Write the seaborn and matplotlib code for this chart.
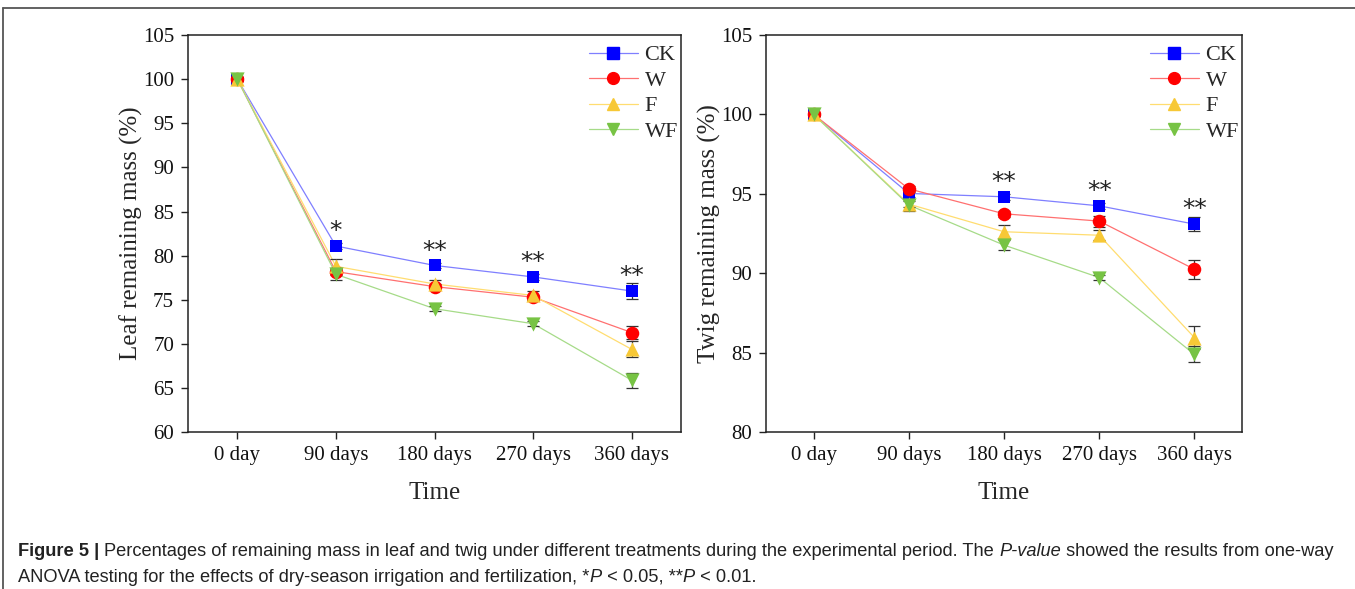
import numpy as np
import pandas as pd
import matplotlib
matplotlib.use("Agg")
import matplotlib.pyplot as plt
from matplotlib.lines import Line2D
import seaborn as sns

# ---------------- data ----------------
times = ["0 day", "90 days", "180 days", "270 days", "360 days"]
treatments = ["CK", "W", "F", "WF"]

leaf_CK = [100.0, 81.1, 78.9, 77.6, 76.0]
leaf_W = [100.0, 78.2, 76.5, 75.3, 71.3]
leaf_F = [100.0, 78.8, 76.8, 75.5, 69.4]
leaf_WF = [100.0, 77.9, 74.0, 72.3, 65.9]
leaf_CK_se = [0.2, 0.3, 0.3, 0.3, 0.9]
leaf_W_se = [0.2, 0.4, 0.3, 0.3, 0.75]
leaf_F_se = [0.2, 0.8, 0.4, 0.5, 0.9]
leaf_WF_se = [0.2, 0.6, 0.3, 0.3, 0.85]
leaf_sig = ["", "*", "**", "**", "**"]

twig_CK = [100.0, 95.03, 94.82, 94.25, 93.1]
twig_W = [100.0, 95.32, 93.75, 93.29, 90.26]
twig_F = [100.0, 94.36, 92.62, 92.4, 85.96]
twig_WF = [100.0, 94.3, 91.78, 89.74, 84.9]
twig_CK_se = [0.1, 0.2, 0.2, 0.2, 0.45]
twig_W_se = [0.1, 0.2, 0.2, 0.35, 0.6]
twig_F_se = [0.1, 0.2, 0.4, 0.3, 0.7]
twig_WF_se = [0.1, 0.35, 0.3, 0.15, 0.5]
twig_sig = ["", "", "**", "**", "**"]

leaf_yticks = [60, 65, 70, 75, 80, 85, 90, 95, 100, 105]
twig_yticks = [80, 85, 90, 95, 100, 105]

# ---------------- style ----------------
sns.set_theme(style="ticks")
plt.rcParams["font.family"] = ["Liberation Serif", "DejaVu Serif"]

marker_colors = {"CK": "#0000FF", "W": "#FF0000", "F": "#F7C836", "WF": "#77C344"}
line_colors = {"CK": "#7F7FFF", "W": "#FF7070", "F": "#FFDD70", "WF": "#A6DB88"}
markers = {"CK": "s", "W": "o", "F": "^", "WF": "v"}
msizes = {"CK": 85, "W": 95, "F": 105, "WF": 105}


def build_df(series, ses):
    rows = []
    for tr, vals, se in zip(treatments, series, ses):
        for t, v, e in zip(times, vals, se):
            rows.append({"Time": t, "mass": v, "se": e, "treatment": tr})
    return pd.DataFrame(rows)


leaf_df = build_df([leaf_CK, leaf_W, leaf_F, leaf_WF],
                   [leaf_CK_se, leaf_W_se, leaf_F_se, leaf_WF_se])
twig_df = build_df([twig_CK, twig_W, twig_F, twig_WF],
                   [twig_CK_se, twig_W_se, twig_F_se, twig_WF_se])

W, H = 1355, 589
fig = plt.figure(figsize=(W / 100, H / 100), dpi=100)
fig.patch.set_facecolor("white")

ax1 = fig.add_axes([188 / W, 1 - 432.3 / H, 493 / W, 397.3 / H])
ax2 = fig.add_axes([766 / W, 1 - 432.3 / H, 476 / W, 397.3 / H])


def draw_panel(ax, df, yticks, ylabel, sig):
    sns.lineplot(data=df, x="Time", y="mass", hue="treatment", palette=line_colors,
                 hue_order=treatments, linewidth=0.9, ax=ax, legend=False,
                 sort=False, errorbar=None, zorder=2)
    for tr in treatments:
        sub = df[df["treatment"] == tr]
        ax.errorbar(sub["Time"], sub["mass"], yerr=sub["se"], fmt="none",
                    ecolor="#333333", elinewidth=0.9, capsize=4, capthick=0.9,
                    zorder=2.5)
    for tr in treatments:
        sub = df[df["treatment"] == tr]
        sns.scatterplot(data=sub, x="Time", y="mass", color=marker_colors[tr],
                        marker=markers[tr], s=msizes[tr], linewidth=0,
                        ax=ax, legend=False, zorder=3)
    # significance marks above CK
    ck = df[df["treatment"] == "CK"].reset_index(drop=True)
    for i, lab in enumerate(sig):
        if lab:
            ax.annotate(lab, xy=(ck.loc[i, "Time"], ck.loc[i, "mass"]),
                        xytext=(0, 2), textcoords="offset points",
                        ha="center", va="bottom", fontsize=18,
                        family=["DejaVu Sans"], color="#222222")

    ax.set_xlim(-0.5, 4.5)
    ax.set_ylim(yticks[0], yticks[-1])
    ax.set_yticks(yticks)
    ax.set_xlabel("Time", fontsize=18, labelpad=12)
    ax.set_ylabel(ylabel, fontsize=18, labelpad=0)
    for s in ax.spines.values():
        s.set_visible(True)
        s.set_linewidth(1.1)
        s.set_color("#222222")
    ax.tick_params(axis="both", direction="out", length=5, width=1.0,
                   labelsize=15, colors="#222222", labelcolor="#111111")
    ax.tick_params(axis="x", pad=5)
    ax.tick_params(axis="y", pad=5)
    ax.grid(False)

    handles = [Line2D([0], [0], color=line_colors[tr], lw=0.9, marker=markers[tr],
                      markerfacecolor=marker_colors[tr], markeredgecolor=marker_colors[tr],
                      markersize=8 if tr != "W" else 8.5)
               for tr in treatments]
    return handles


h1 = draw_panel(ax1, leaf_df, leaf_yticks, "Leaf remaining mass (%)", leaf_sig)
h2 = draw_panel(ax2, twig_df, twig_yticks, "Twig remaining mass (%)", twig_sig)

for ax, hs, x0 in [(ax1, h1, (589 - 188) / 493), (ax2, h2, (1150 - 766) / 476)]:
    ax.legend(hs, treatments, loc="upper left", bbox_to_anchor=(x0, 0.975),
              frameon=False, fontsize=16, handlelength=2.2, handletextpad=0.3,
              borderpad=0, borderaxespad=0, labelspacing=0.22)

# figure border (top and left)
fig.add_artist(Line2D([3 / W, 1], [1 - 8 / H, 1 - 8 / H], transform=fig.transFigure,
                      color="#555555", lw=1.3))
fig.add_artist(Line2D([3 / W, 3 / W], [0, 1 - 8 / H], transform=fig.transFigure,
                      color="#555555", lw=1.3))

# caption
cap_family = ["Liberation Sans", "DejaVu Sans"]
line1 = [("Figure 5 | ", "bold", "normal"),
         ("Percentages of remaining mass in leaf and twig under different treatments during the experimental period. The ", "normal", "normal"),
         ("P-value", "normal", "italic"),
         (" showed the results from one-way", "normal", "normal")]
line2 = [("ANOVA testing for the effects of dry-season irrigation and fertilization, *", "normal", "normal"),
         ("P", "normal", "italic"),
         (" < 0.05, **", "normal", "normal"),
         ("P", "normal", "italic"),
         (" < 0.01.", "normal", "normal")]

fig.canvas.draw()
renderer = fig.canvas.get_renderer()


def place_line(pieces, x_px, y_px, size):
    x = x_px
    for txt, wt, st in pieces:
        t = fig.text(x / W, 1 - y_px / H, txt, fontsize=size, fontweight=wt,
                     fontstyle=st, family=cap_family, color="#222222",
                     va="center", ha="left")
        bb = t.get_window_extent(renderer=renderer)
        x += bb.width


place_line(line1, 18, 552, 13.15)
place_line(line2, 18, 577, 13.15)

fig.savefig("out.png", dpi=100, facecolor="white")
